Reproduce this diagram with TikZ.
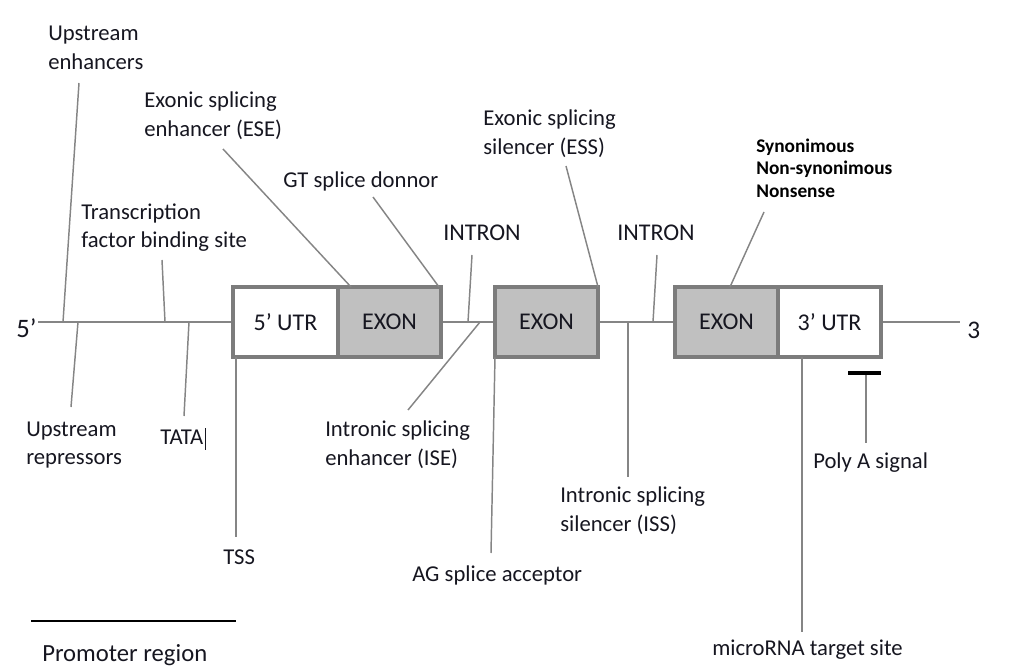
\documentclass[tikz,border=0pt]{standalone}
\usepackage{fontspec}
\setmainfont{Carlito}
\definecolor{txt}{HTML}{161620}
\definecolor{ln}{HTML}{858585}
\definecolor{bx}{HTML}{7C7C7C}
\definecolor{exg}{HTML}{C0C0C0}
\begin{document}
\begin{tikzpicture}[x=0.75pt,y=-0.75pt,
  lab/.style={inner sep=0pt, anchor=west, align=left, text=txt, font=\fontsize{17}{21.5}\selectfont},
  big/.style={lab, font=\fontsize{18}{22}\selectfont},
  bold/.style={inner sep=0pt, anchor=west, align=left, text=black, font=\fontsize{14.5}{17}\selectfont\bfseries},
  lead/.style={draw=ln, line width=1.1pt},
  boxw/.style={draw=bx, line width=2.6pt, fill=white, minimum height=52.5pt, inner sep=0pt, text=txt, font=\fontsize{18}{22}\selectfont},
  boxg/.style={boxw, fill=exg},
]
\useasboundingbox (0,0) rectangle (1024,670);

% main strand
\coordinate (s5) at (38,322);
\coordinate (s3) at (960,322);
\draw[draw=ln, line width=1.5pt] (s5) -- (s3);

% boxes
\node[boxw, minimum width=78.75pt] (utr5) at (285.5,322) {5’ UTR};
\node[boxg, minimum width=77.25pt] (ex1) at (389.5,322) {EXON};
\node[boxg, minimum width=77.25pt] (ex2) at (546.5,322) {EXON};
\node[boxg, minimum width=77.25pt] (ex3) at (726.5,322) {EXON};
\node[boxw, minimum width=77.25pt] (utr3) at (829.5,322) {3’ UTR};

% end labels
\node[lab, font=\fontsize{20}{24}\selectfont] (five) at (16,328) {5’};
\node[lab, font=\fontsize{19}{24}\selectfont] (three) at (967,330) {3};

% top labels
\node[lab] (ue) at (48,47.5) {Upstream\\enhancers};
\node[lab] (ese) at (144,115.5) {Exonic splicing\\enhancer (ESE)};
\node[lab] (gt) at (283,181) {GT splice donnor};
\node[lab] (tf) at (81,227.5) {Transcription\\factor binding site};
\node[big] (in1) at (443,233) {INTRON};
\node[lab] (ess) at (483,133.5) {Exonic splicing\\silencer (ESS)};
\node[big] (in2) at (617,233) {INTRON};
\node[bold] (syn) at (756,168) {Synonimous\\Non-synonimous\\Nonsense};

% bottom labels
\node[lab] (ur) at (26,445) {Upstream\\repressors};
\node[lab] (tata) at (160,437) {TATA};
\node[lab] (tss) at (223,557) {TSS};
\node[lab] (ise) at (325,445) {Intronic splicing\\enhancer (ISE)};
\node[lab] (ag) at (412,575) {AG splice acceptor};
\node[lab] (iss) at (560,510.5) {Intronic splicing\\silencer (ISS)};
\node[lab] (polya) at (813,463) {Poly A signal};
\node[lab] (mirna) at (712,650) {microRNA target site};
\node[lab, font=\fontsize{18.5}{22}\selectfont] (prom) at (42,655) {Promoter region};

% leader coordinates
\coordinate (ueA) at (79,83);   \coordinate (ueB) at (63,322);
\coordinate (eseA) at (223,149); \coordinate (eseB) at (351,287);
\coordinate (tfA) at (162,260); \coordinate (tfB) at (165,322);
\coordinate (gtA) at (373,197); \coordinate (gtB) at (439,287);
\coordinate (in1A) at (472,255); \coordinate (in1B) at (468,322);
\coordinate (essA) at (566,166); \coordinate (essB) at (598,287);
\coordinate (in2A) at (657,255); \coordinate (in2B) at (653,322);
\coordinate (synA) at (764,212); \coordinate (synB) at (730,287);
\coordinate (urA) at (78,322);  \coordinate (urB) at (71,407);
\coordinate (tataA) at (189,322); \coordinate (tataB) at (184,416);
\coordinate (tssA) at (236,357); \coordinate (tssB) at (236,537);
\coordinate (iseA) at (480,322); \coordinate (iseB) at (408,410);
\coordinate (agA) at (495,357); \coordinate (agB) at (491,553);
\coordinate (issA) at (628,322); \coordinate (issB) at (628,477);
\coordinate (miA) at (802,357); \coordinate (miB) at (802,632);
\coordinate (paA) at (866,373); \coordinate (paB) at (866,443);
\coordinate (paL) at (848,373); \coordinate (paR) at (881,373);
\coordinate (prL) at (31,621); \coordinate (prR) at (236,621);
\coordinate (curA) at ([xshift=1.2pt]tata.east |- 0,428); \coordinate (curB) at ([xshift=1.2pt]tata.east |- 0,450);

\foreach \p in {ue,ese,tf,gt,in1,ess,in2,syn,ur,tata,tss,ise,ag,iss,mi,pa}
  \draw[lead] (\p A) -- (\p B);

\draw[black, line width=2.6pt] (paL) -- (paR);
\draw[black, line width=2pt] (prL) -- (prR);
\draw[txt, line width=0.8pt] (curA) -- (curB);
\end{tikzpicture}
\end{document}
